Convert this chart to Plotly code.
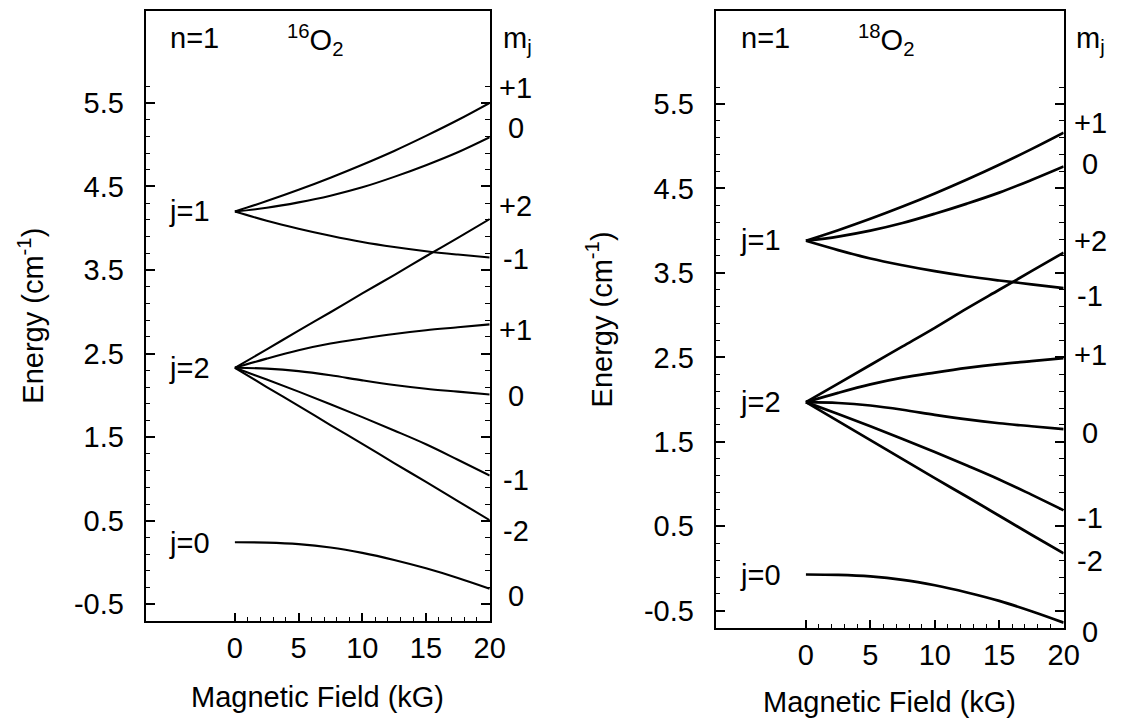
import plotly.graph_objects as go
import numpy as np

# page body keeps its default 8px margin, so the figure is sized to fit the
# 1133x718 window exactly and all positions below are given in window pixels
WIN_W, WIN_H = 1133, 718
OFF = 8
W, H = WIN_W - 2 * OFF, WIN_H - OFF

# ---- data ----
field = [0, 2.5, 5, 7.5, 10, 12.5, 15, 17.5, 20]

# 16O2 panel
o16_j1_p1 = [4.20, 4.325, 4.46, 4.605, 4.76, 4.925, 5.105, 5.295, 5.50]
o16_j1_0  = [4.20, 4.245, 4.31, 4.39, 4.49, 4.615, 4.755, 4.91, 5.09]
o16_j1_m1 = [4.20, 4.09, 3.995, 3.91, 3.835, 3.775, 3.725, 3.685, 3.65]
o16_j2_p2 = [2.33, 2.55, 2.775, 2.995, 3.22, 3.44, 3.665, 3.885, 4.11]
o16_j2_p1 = [2.33, 2.44, 2.54, 2.62, 2.68, 2.735, 2.78, 2.815, 2.85]
o16_j2_0  = [2.33, 2.32, 2.29, 2.24, 2.18, 2.125, 2.08, 2.045, 2.01]
o16_j2_m1 = [2.33, 2.19, 2.045, 1.895, 1.74, 1.58, 1.415, 1.23, 1.04]
o16_j2_m2 = [2.33, 2.10, 1.875, 1.645, 1.42, 1.19, 0.965, 0.735, 0.506]
o16_j0_0  = [0.243, 0.238, 0.22, 0.18, 0.115, 0.03, -0.07, -0.185, -0.314]

# 18O2 panel
o18_j1_p1 = [3.88, 4.005, 4.14, 4.285, 4.44, 4.605, 4.78, 4.965, 5.16]
o18_j1_0  = [3.88, 3.93, 4.00, 4.09, 4.20, 4.32, 4.45, 4.60, 4.76]
o18_j1_m1 = [3.88, 3.77, 3.67, 3.59, 3.52, 3.46, 3.41, 3.365, 3.32]
o18_j2_p2 = [1.97, 2.19, 2.41, 2.63, 2.85, 3.08, 3.30, 3.52, 3.74]
o18_j2_p1 = [1.97, 2.08, 2.18, 2.26, 2.32, 2.375, 2.42, 2.455, 2.49]
o18_j2_0  = [1.97, 1.96, 1.93, 1.88, 1.82, 1.765, 1.72, 1.685, 1.65]
o18_j2_m1 = [1.97, 1.83, 1.685, 1.535, 1.38, 1.22, 1.055, 0.875, 0.69]
o18_j2_m2 = [1.97, 1.745, 1.52, 1.295, 1.07, 0.85, 0.625, 0.40, 0.18]
o18_j0_0  = [-0.07, -0.075, -0.093, -0.133, -0.198, -0.283, -0.383, -0.505, -0.64]

x_ticks = [0, 5, 10, 15, 20]
y_ticks = [-0.5, 0.5, 1.5, 2.5, 3.5, 4.5, 5.5]
y_tick_text = ["-0.5", "0.5", "1.5", "2.5", "3.5", "4.5", "5.5"]

left_series = [o16_j1_p1, o16_j1_0, o16_j1_m1, o16_j2_p2, o16_j2_p1,
               o16_j2_0, o16_j2_m1, o16_j2_m2, o16_j0_0]
right_series = [o18_j1_p1, o18_j1_0, o18_j1_m1, o18_j2_p2, o18_j2_p1,
                o18_j2_0, o18_j2_m1, o18_j2_m2, o18_j0_0]

# labels
left_mj = [("+1", 88), ("0", 128), ("+2", 206), ("-1", 259), ("+1", 330),
           ("0", 396), ("-1", 480), ("-2", 531), ("0", 596)]
right_mj = [("+1", 123), ("0", 164), ("+2", 241), ("-1", 296), ("+1", 355),
            ("0", 433), ("-1", 518), ("-2", 561), ("0", 632)]
left_j = [("j=1", 211), ("j=2", 368), ("j=0", 543)]
right_j = [("j=1", 240), ("j=2", 402), ("j=0", 575)]

FONT = "Liberation Sans, Arial, Helvetica, sans-serif"
FS = 29


def PX(x):
    return (x - OFF) / W


def PY(y):
    return 1 - (y - OFF) / H


fig = go.Figure()
for s in left_series:
    fig.add_trace(go.Scatter(x=field, y=s, mode="lines", xaxis="x", yaxis="y",
                             line=dict(color="black", width=2.1, shape="spline"),
                             showlegend=False, hoverinfo="skip"))
for s in right_series:
    fig.add_trace(go.Scatter(x=field, y=s, mode="lines", xaxis="x2", yaxis="y2",
                             line=dict(color="black", width=2.7, shape="spline"),
                             showlegend=False, hoverinfo="skip"))

minor_x = [v for v in range(1, 20) if v % 5 != 0]
minor_y = [round(v, 1) for v in np.arange(-0.5, 5.71, 0.2)]

xcommon = dict(range=[-7, 20], showgrid=False, zeroline=False,
               showline=True, linecolor="black", linewidth=2, mirror=True,
               ticks="inside", ticklen=8, tickwidth=1.5, tickcolor="black",
               tickmode="array", tickvals=x_ticks,
               ticklabelstandoff=0,
               tickfont=dict(family=FONT, size=FS, color="black"),
               minor=dict(tickmode="array", tickvals=minor_x, ticks="inside",
                          ticklen=4, tickwidth=1.2, tickcolor="black"))
ycommon = dict(range=[-0.7, 6.6], showgrid=False, zeroline=False,
               showline=True, linecolor="black", linewidth=2, mirror="ticks",
               ticks="inside", ticklen=9, tickwidth=1.5, tickcolor="black",
               tickmode="array", tickvals=y_ticks, ticktext=y_tick_text,
               ticklabelstandoff=14,
               tickfont=dict(family=FONT, size=FS, color="black"),
               minor=dict(tickmode="array", tickvals=minor_y, ticks="inside",
                          ticklen=4.5, tickwidth=1.2, tickcolor="black"))

fig.update_layout(
    width=W, height=H, margin=dict(l=0, r=0, t=0, b=0), autosize=False,
    paper_bgcolor="white", plot_bgcolor="white",
    font=dict(family=FONT, size=FS, color="black"),
    xaxis=dict(domain=[PX(147.7), PX(496.7)], anchor="y", **xcommon),
    yaxis=dict(domain=[PY(621), PY(11)], anchor="x", **ycommon),
    xaxis2=dict(domain=[PX(726), PX(1079)], anchor="y2", **xcommon),
    yaxis2=dict(domain=[PY(627.7), PY(11)], anchor="x2", **ycommon),
)

ann = []


def add(text, x, y, size=FS, angle=0):
    ann.append(dict(text=text, x=PX(x), y=PY(y), xref="paper", yref="paper",
                    showarrow=False, xanchor="center", yanchor="middle",
                    textangle=angle,
                    font=dict(family=FONT, size=size, color="black")))


# left panel texts
add("n=1", 197.5, 38)
add("<sup>16</sup>O<sub>2</sub>", 319, 40)
add("m<sub>j</sub>", 525, 40)
for t, y in left_mj:
    add(t, 523, y)
for t, y in left_j:
    add(t, 192, y)
add("Magnetic Field (kG)", 322, 697)
add("Energy (cm<sup>-1</sup>)", 31, 316, angle=-90)

# right panel texts
add("n=1", 776.5, 38)
add("<sup>18</sup>O<sub>2</sub>", 899, 40)
add("m<sub>j</sub>", 1106, 40)
for t, y in right_mj:
    add(t, 1106, y)
for t, y in right_j:
    add(t, 771, y)
add("Magnetic Field (kG)", 902, 702)
add("Energy (cm<sup>-1</sup>)", 608, 319, angle=-90)

fig.update_layout(annotations=ann)

fig.write_html("out.html", config={"displayModeBar": False})
